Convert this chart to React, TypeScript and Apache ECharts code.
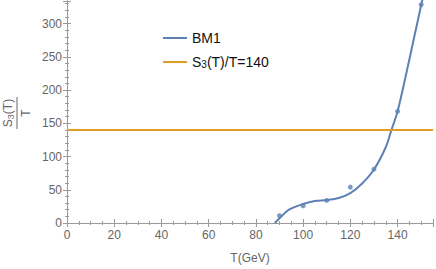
import React, { useEffect, useRef } from "react";
import * as echarts from "echarts";

// Fitted curve
const curveT = [88, 90, 94, 100, 105, 110, 115, 120, 125, 130, 135, 137.3, 140, 143.5, 147, 150, 152];
const curveV = [0, 7, 20, 28.5, 33, 34.5, 37.5, 45, 59.5, 80.5, 114, 139, 168, 222, 279, 328, 362];
// Data points
const pointT = [90, 100, 110, 120, 130, 140, 150];
const pointV = [11, 26, 34, 54, 81, 168, 328.5];
// Threshold line
const thresholdValue = 140;
const xTicks = [0, 20, 40, 60, 80, 100, 120, 140];
const yTicks = [0, 50, 100, 150, 200, 250, 300];

const X_MIN = 0, X_MAX = 155, Y_MIN = 0, Y_MAX = 334;

const FONT = "'Liberation Sans', Arial, sans-serif";
const AXIS_COLOR = "#9a9a9a";
const LABEL_COLOR = "#666666";
const BLUE = "#5E81B5";
const ORANGE = "#E19C24";

export default function App() {
  const ref = useRef<HTMLDivElement>(null);
  useEffect(() => {
    if (!ref.current) return;
    const chart = echarts.init(ref.current, null, { renderer: "svg" });

    const mkX = (pos: "bottom" | "top", interval: number, len: number, main: boolean, labels: boolean) => ({
      type: "value",
      position: pos,
      min: X_MIN,
      max: X_MAX,
      interval,
      axisLine: { show: main, lineStyle: { color: AXIS_COLOR, width: 1 } },
      axisTick: { show: true, inside: true, length: len, lineStyle: { color: AXIS_COLOR, width: 1 } },
      axisLabel: {
        show: labels,
        margin: 6,
        color: LABEL_COLOR,
        fontSize: 12,
        fontFamily: FONT,
        formatter: (v: number) => (xTicks.indexOf(v) >= 0 ? String(v) : ""),
      },
      splitLine: { show: false },
      ...(labels
        ? {
            name: "T(GeV)",
            nameLocation: "middle",
            nameGap: 29,
            nameTextStyle: { color: LABEL_COLOR, fontSize: 12, fontFamily: FONT },
          }
        : {}),
    });
    const mkY = (pos: "left" | "right", interval: number, len: number, main: boolean, labels: boolean) => ({
      type: "value",
      position: pos,
      min: Y_MIN,
      max: Y_MAX,
      interval,
      axisLine: { show: main, lineStyle: { color: AXIS_COLOR, width: 1 } },
      axisTick: { show: true, inside: true, length: len, lineStyle: { color: AXIS_COLOR, width: 1 } },
      axisLabel: {
        show: labels,
        margin: 5,
        color: LABEL_COLOR,
        fontSize: 12,
        fontFamily: FONT,
        formatter: (v: number) => (yTicks.indexOf(v) >= 0 ? String(v) : ""),
      },
      splitLine: { show: false },
    });

    const thresholdName = "S3(T)/T=140";

    chart.setOption({
      animation: false,
      backgroundColor: "#ffffff",
      grid: { left: 67, right: 2, top: 1, bottom: 42 },
      xAxis: [
        mkX("bottom", 20, 4, true, true),
        mkX("top", 20, 4, true, false),
        mkX("bottom", 5, 2, false, false),
        mkX("top", 5, 2, false, false),
      ],
      yAxis: [
        mkY("left", 50, 4, true, true),
        mkY("right", 50, 4, true, false),
        mkY("left", 10, 2, false, false),
        mkY("right", 10, 2, false, false),
      ],
      legend: [
        {
          data: [{ name: "BM1", icon: "rect" }],
          left: 158,
          top: 26,
          orient: "vertical",
          itemWidth: 24,
          itemHeight: 2,
          textStyle: { color: "#111", fontSize: 14, fontFamily: FONT },
        },
        {
          data: [{ name: thresholdName, icon: "rect" }],
          left: 158,
          top: 50,
          orient: "vertical",
          itemWidth: 24,
          itemHeight: 2,
          formatter: () => "{a|S}{s|3}{a|(T)/T=140}",
          textStyle: {
            color: "#111",
            fontSize: 14,
            fontFamily: FONT,
            rich: {
              a: { fontSize: 14, fontFamily: FONT, color: "#111" },
              s: { fontSize: 10, fontFamily: FONT, color: "#111", padding: [5, 0, 0, 0] },
            },
          },
        },
      ],
      graphic: [
        {
          type: "group",
          x: 17,
          y: 113,
          rotation: Math.PI / 2,
          children: [
            {
              type: "text",
              x: 0,
              y: -2,
              style: {
                text: "{a|S}{s|3}{a|(T)}",
                align: "center",
                verticalAlign: "bottom",
                rich: {
                  a: { fontSize: 12, fontFamily: FONT, fill: LABEL_COLOR },
                  s: { fontSize: 9, fontFamily: FONT, fill: LABEL_COLOR, padding: [5, 0, 0, 0] },
                },
              },
            },
            {
              type: "line",
              shape: { x1: -16, y1: 0, x2: 16, y2: 0 },
              style: { stroke: LABEL_COLOR, lineWidth: 1 },
            },
            {
              type: "text",
              x: 0,
              y: 3,
              style: {
                text: "T",
                align: "center",
                verticalAlign: "top",
                fontSize: 12,
                fontFamily: FONT,
                fill: LABEL_COLOR,
              },
            },
          ],
        },
      ],
      series: [
        {
          name: "BM1",
          type: "line",
          xAxisIndex: 0,
          yAxisIndex: 0,
          data: curveT.map((t, i) => [t, curveV[i]]),
          smooth: 0.35,
          showSymbol: false,
          symbol: "none",
          clip: true,
          lineStyle: { color: BLUE, width: 2 },
          itemStyle: { color: BLUE },
          z: 2,
        },
        {
          name: "BM1 points",
          type: "scatter",
          xAxisIndex: 0,
          yAxisIndex: 0,
          data: pointT.map((t, i) => [t, pointV[i]]),
          symbolSize: 5,
          itemStyle: { color: BLUE },
          z: 3,
        },
        {
          name: thresholdName,
          type: "line",
          xAxisIndex: 0,
          yAxisIndex: 0,
          data: [
            [X_MIN, thresholdValue],
            [X_MAX, thresholdValue],
          ],
          showSymbol: false,
          symbol: "none",
          lineStyle: { color: ORANGE, width: 2 },
          itemStyle: { color: ORANGE },
          z: 4,
        },
      ],
    });
    return () => chart.dispose();
  }, []);
  return <div ref={ref} style={{ width: 436, height: 269, position: "absolute", left: 0, top: 0 }} />;
}
